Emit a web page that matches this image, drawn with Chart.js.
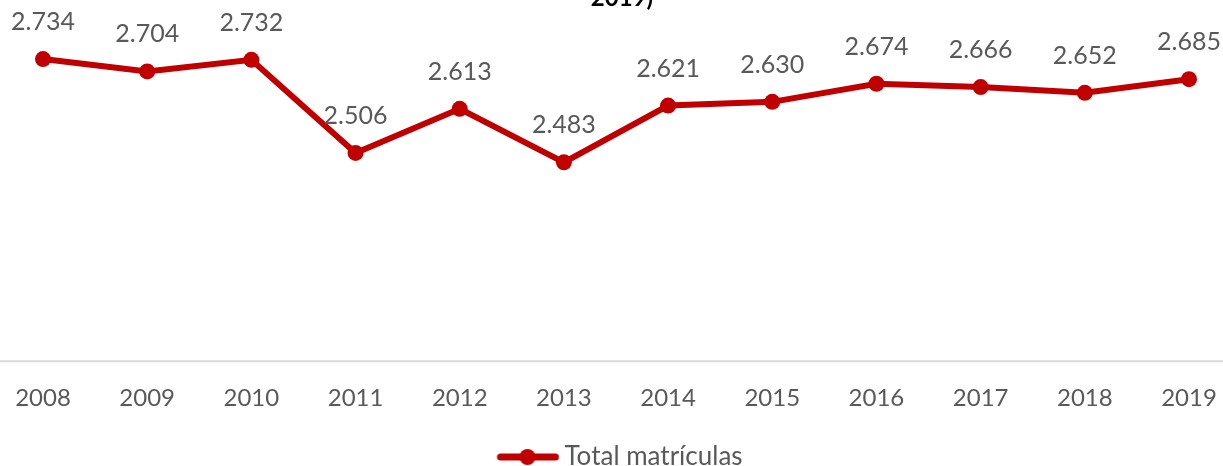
<!DOCTYPE html>
<html>
<head>
<meta charset="utf-8">
<script src="https://cdn.jsdelivr.net/npm/chart.js@4/dist/chart.umd.min.js"></script>
<style>
  html, body { margin: 0; padding: 0; background: #ffffff; overflow: hidden; }
  #wrap { position: relative; width: 1223px; height: 466px; overflow: hidden; }
  #title { position: absolute; left: 0; width: 1244px; top: -18px; text-align: center;
           font-family: Lato, "Liberation Sans", sans-serif; font-weight: bold; font-size: 24px; color: #000; }
  canvas { position: absolute; left: 0; top: 0; }
</style>
</head>
<body>
<div id="wrap">
  <canvas id="c" width="1223" height="480"></canvas>
  <div id="title">2019)</div>
</div>
<script>
const years = ['2008','2009','2010','2011','2012','2013','2014','2015','2016','2017','2018','2019'];
const totalMatriculas = [2734, 2704, 2732, 2506, 2613, 2483, 2621, 2630, 2674, 2666, 2652, 2685];
const seriesName = 'Total matrículas';

const RED = '#C00000';
const GREY = '#595959';
const FONT = 'Lato, "Liberation Sans", sans-serif';

function fmt(v) {
  const s = String(v);
  return s.length > 3 ? s.slice(0, s.length - 3) + '.' + s.slice(s.length - 3) : s;
}

// legend symbol: line with a dot (drawn in the right part of a wider canvas)
const sym = document.createElement('canvas');
sym.width = 78; sym.height = 20;
(function () {
  const g = sym.getContext('2d');
  g.strokeStyle = RED; g.lineWidth = 7; g.lineCap = 'round';
  g.beginPath(); g.moveTo(19, 10); g.lineTo(74, 10); g.stroke();
  g.fillStyle = RED; g.beginPath(); g.arc(46, 10, 8, 0, Math.PI * 2); g.fill();
})();

const baseLine = {
  id: 'baseLine',
  beforeDatasetsDraw(chart) {
    const ctx = chart.ctx;
    const y = chart.chartArea.bottom;
    ctx.save();
    ctx.strokeStyle = '#d9d9d9';
    ctx.lineWidth = 2;
    ctx.beginPath(); ctx.moveTo(0, y); ctx.lineTo(chart.width, y); ctx.stroke();
    ctx.restore();
  }
};

const valueLabels = {
  id: 'valueLabels',
  afterDatasetsDraw(chart) {
    const ctx = chart.ctx;
    ctx.save();
    ctx.font = '25px ' + FONT;
    ctx.fillStyle = GREY;
    ctx.textAlign = 'center';
    ctx.textBaseline = 'middle';
    chart.getDatasetMeta(0).data.forEach((pt, i) => {
      ctx.fillText(fmt(totalMatriculas[i]), pt.x, pt.y - 37);
    });
    ctx.restore();
  }
};

new Chart(document.getElementById('c'), {
  type: 'line',
  data: {
    labels: years,
    datasets: [{
      label: seriesName,
      data: totalMatriculas,
      borderColor: RED,
      backgroundColor: RED,
      borderWidth: 6,
      pointRadius: 8,
      pointBackgroundColor: RED,
      pointBorderColor: RED,
      pointBorderWidth: 0,
      tension: 0
    }]
  },
  options: {
    responsive: false,
    animation: false,
    layout: { padding: { left: 43, right: 34, top: 0, bottom: 0 } },
    scales: {
      x: {
        offset: false,
        grid: { display: false, drawTicks: false },
        border: { display: false },
        ticks: { color: GREY, font: { family: FONT, size: 24 }, padding: 23, maxRotation: 0 },
        afterFit(s) { s.paddingLeft = 0; s.paddingRight = 0; }
      },
      y: {
        display: false,
        min: 2000,
        max: 2858
      }
    },
    plugins: {
      tooltip: { enabled: false },
      legend: {
        position: 'bottom',
        labels: {
          color: GREY,
          font: { family: FONT, size: 26 },
          usePointStyle: true,
          pointStyleWidth: 62,
          padding: 8,
          generateLabels(chart) {
            return [{
              text: seriesName,
              fillStyle: RED,
              strokeStyle: RED,
              lineWidth: 0,
              pointStyle: sym,
              datasetIndex: 0,
              fontColor: GREY
            }];
          }
        }
      }
    }
  },
  plugins: [baseLine, valueLabels]
});
</script>
</body>
</html>
